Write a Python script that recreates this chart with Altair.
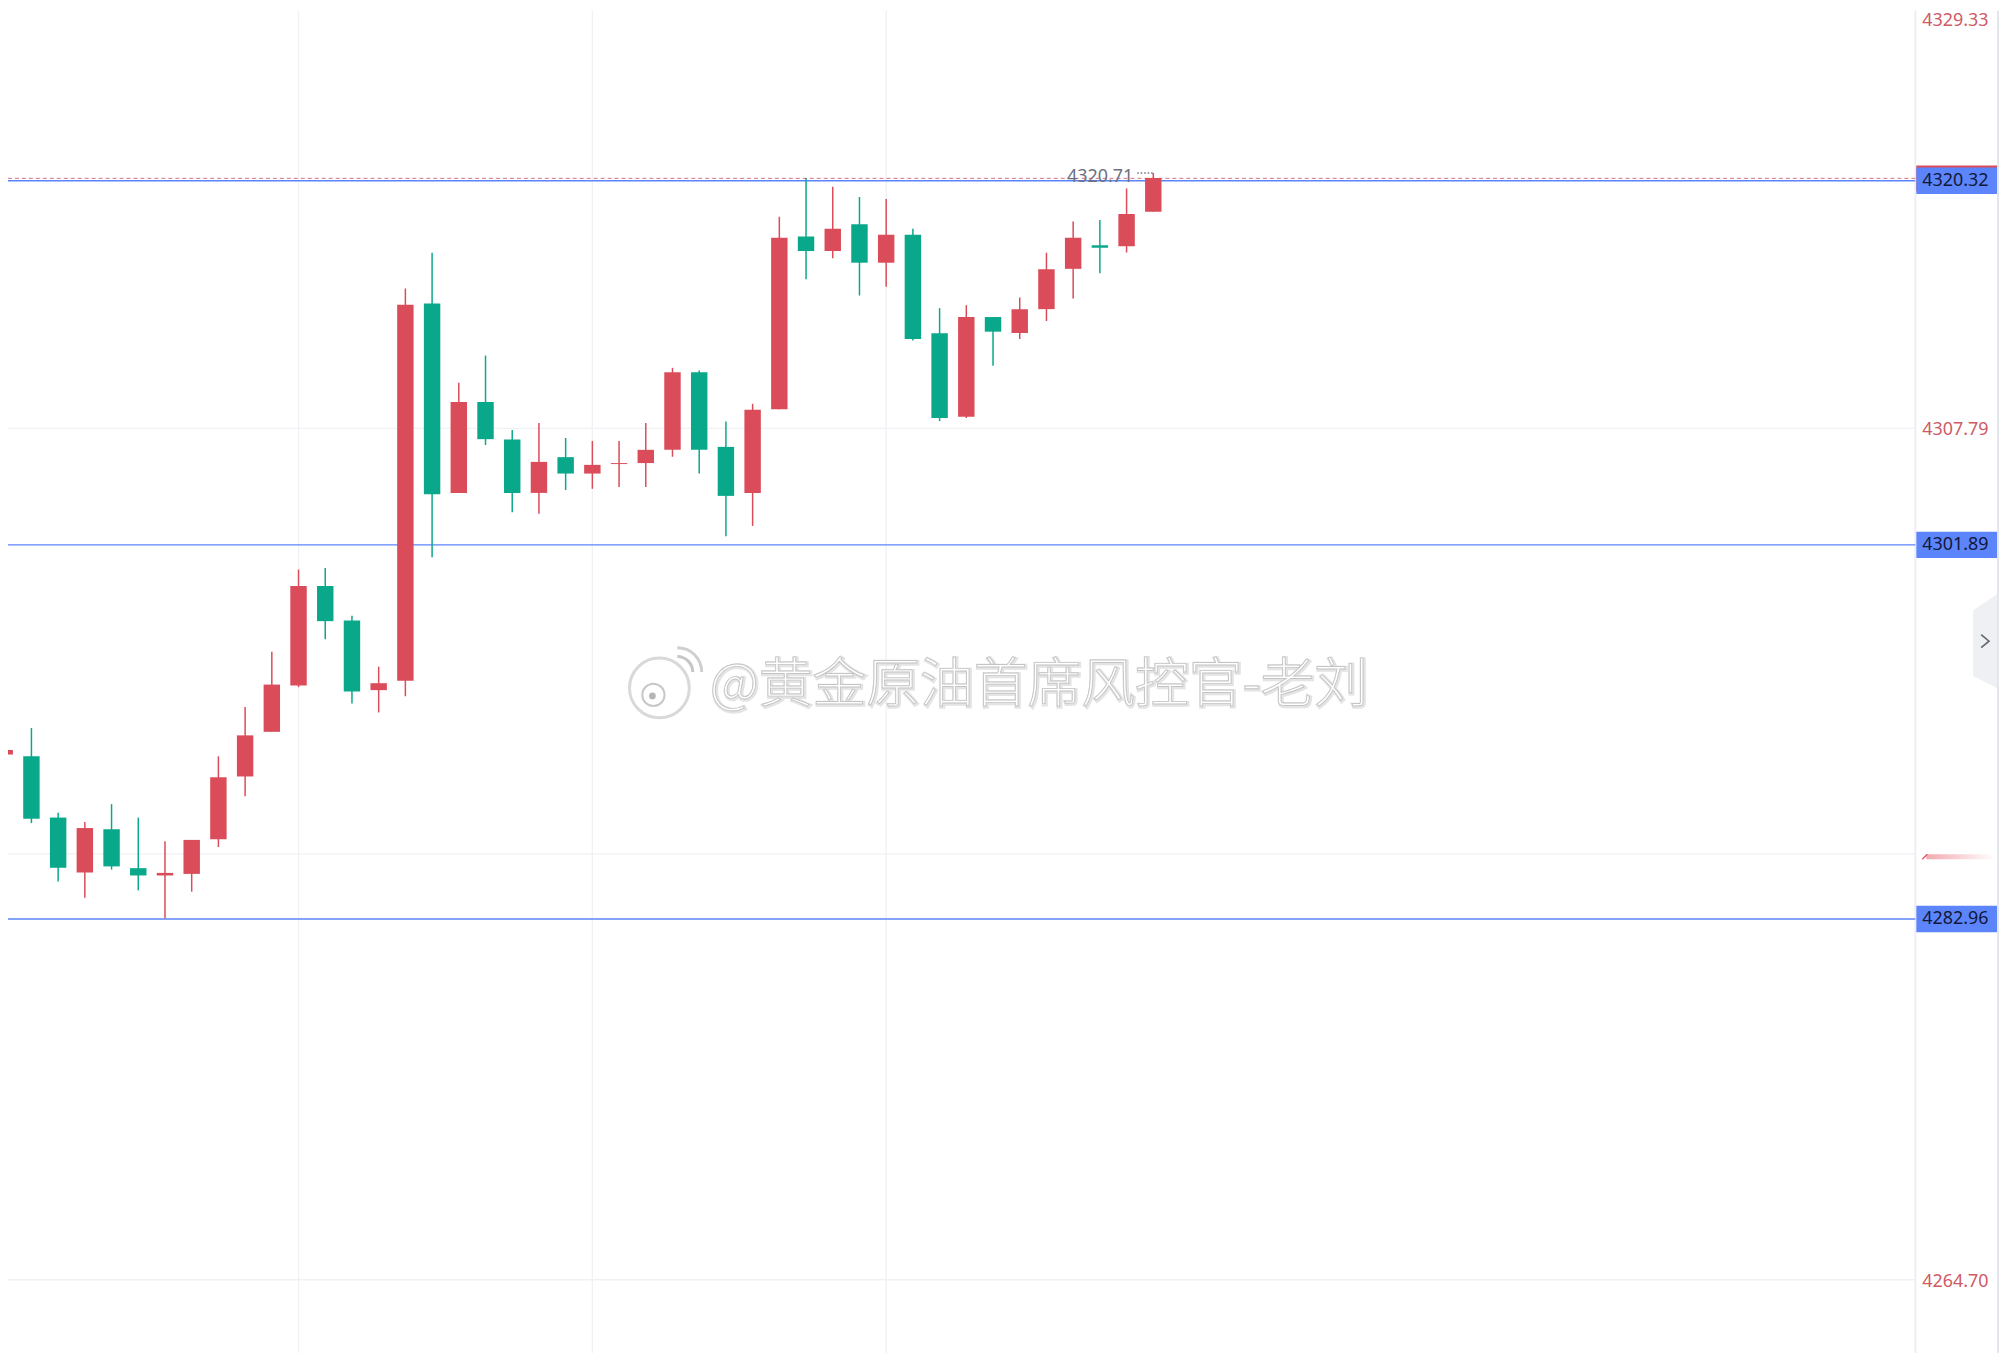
import altair as alt
import pandas as pd

wick_high = [4292.49,4292.62,4288.34,4287.86,4288.77,4288.09,4286.89,4286.96,4291.19,4293.68,4296.48,
             4300.64,4300.72,4298.30,4295.73,4314.86,4316.68,4310.09,4311.47,4307.71,4308.06,4307.30,
             4307.15,4307.15,4308.06,4310.85,4310.72,4308.13,4309.03,4318.49,4320.46,4320.01,4319.49,
             4319.40,4317.89,4313.87,4314.02,4313.42,4314.41,4316.68,4318.26,4318.33,4319.92,4320.71]
body_top = [4291.51,4291.19,4288.09,4287.56,4287.50,4285.53,4285.29,4286.96,4290.13,4292.25,4294.82,
            4299.81,4299.81,4298.06,4294.89,4314.04,4314.11,4309.12,4309.12,4307.22,4306.09,4306.33,
            4305.94,4306.03,4306.70,4310.63,4310.63,4306.85,4308.73,4317.43,4317.50,4317.89,4318.11,
            4317.59,4317.59,4312.60,4313.42,4313.42,4313.81,4315.84,4317.43,4317.05,4318.64,4320.46]
body_bottom = [4291.28,4288.03,4285.55,4285.31,4285.62,4285.16,4285.16,4285.24,4286.99,4290.17,4292.43,
               4294.77,4298.03,4294.47,4294.54,4295.01,4304.45,4304.52,4307.24,4304.52,4304.52,4305.50,
               4305.50,4305.98,4306.03,4306.70,4306.70,4304.37,4304.52,4308.75,4316.76,4316.76,4316.17,
               4316.17,4312.31,4308.31,4308.38,4312.68,4312.61,4313.82,4315.86,4316.93,4317.00,4318.75]
wick_low = [4289.17,4287.81,4284.86,4284.03,4285.46,4284.41,4282.99,4284.34,4286.60,4289.17,4292.43,
            4294.69,4297.11,4293.86,4293.41,4294.23,4301.27,4304.52,4306.94,4303.54,4303.46,4304.67,
            4304.73,4304.82,4304.82,4306.35,4305.50,4302.33,4302.85,4308.75,4315.33,4316.39,4314.51,
            4314.95,4312.23,4308.16,4308.31,4310.95,4312.31,4313.22,4314.36,4315.64,4316.69,4318.75]
direction = ["r","g","g","r","g","g","r","r","r","r","r",
             "r","g","g","r","r","g","r","g","g","r","g",
             "r","r","r","r","g","g","r","r","g","r","g",
             "r","g","g","r","g","r","r","r","g","r","r"]

guide_prices = [4320.32, 4301.89, 4282.96]
current_price = [4320.44]
grid_prices = [4264.70, 4286.25, 4307.79]
labelled_prices = [4264.70, 4307.79]
grid_indices = [11, 22, 33]
top_tick = [4329.33]
high_label = [4320.71]
last_index = [43]
watermark = ["@黄金原油首席风控官-老刘"]

RED, GREEN, BLUE = "#db4c5a", "#0aa88a", "#5c84fb"
LABEL_RED = "#cf5a65"
GRID = "#f0f1f5"
FONT = "Noto Sans"

df = pd.DataFrame({
    "i": list(range(len(wick_high))),
    "wh": wick_high, "bt": body_top, "bb": body_bottom, "wl": wick_low, "d": direction,
})
guides = pd.DataFrame({"v": guide_prices})
cur = pd.DataFrame({"v": current_price})
gridy = pd.DataFrame({"v": grid_prices})
ticks = pd.DataFrame({"v": labelled_prices})
gridx = pd.DataFrame({"i": grid_indices})
top = pd.DataFrame({"v": top_tick})
hi = pd.DataFrame({"v": high_label, "i": last_index})
wm = pd.DataFrame({"t": watermark})
one = pd.DataFrame({"a": [0]})

xs = alt.Scale(domain=[0.123, 71.53], nice=False, zero=False, padding=0)
ys = alt.Scale(domain=[4261.13, 4328.924], nice=False, zero=False, padding=0)
PANEL_L, PANEL_R = 1916, 1997
colors = alt.Scale(domain=["r", "g"], range=[RED, GREEN])

Yv = alt.Y("v:Q", scale=ys, axis=None)
Xi = alt.X("i:Q", scale=xs, axis=None)

grid_h = alt.Chart(gridy).mark_rule(color=GRID, strokeWidth=1.3).encode(y=Yv, x=alt.value(0), x2=alt.value(1915))
grid_v = alt.Chart(gridx).mark_rule(color=GRID, strokeWidth=1.3).encode(x=Xi, y=alt.value(0), y2=alt.value(1350))
panel_line = alt.Chart(one).mark_rule(color="#eceef3", strokeWidth=2).encode(
    x=alt.value(1915), y=alt.value(0), y2=alt.value(1350))
tick_text = alt.Chart(ticks).mark_text(align="left", baseline="middle", dy=2, fontSize=18, font=FONT,
                                       color=LABEL_RED).encode(
    y=Yv, x=alt.value(1922), text=alt.Text("v:Q", format=".2f"))

guide_layer = alt.Chart(guides).mark_rule(color=BLUE, strokeWidth=1.4).encode(
    y=Yv, x=alt.value(0), x2=alt.value(1915))
current_line = alt.Chart(cur).mark_rule(color="#d9737f", strokeWidth=1, strokeDash=[4, 3]).encode(
    y=Yv, x=alt.value(0), x2=alt.value(1915))

wicks = alt.Chart(df).mark_rule(strokeWidth=1.5, clip=True).encode(
    x=Xi, y=alt.Y("wh:Q", scale=ys, axis=None), y2="wl:Q",
    color=alt.Color("d:N", scale=colors, legend=None))
bodies = alt.Chart(df).mark_bar(size=16.5, clip=True).encode(
    x=Xi, y=alt.Y("bt:Q", scale=ys, axis=None), y2="bb:Q",
    color=alt.Color("d:N", scale=colors, legend=None))

high_text = alt.Chart(hi).mark_text(align="right", baseline="middle", dx=-20, dy=4, fontSize=18,
                                    font=FONT, color="#6c7080").encode(
    x=Xi, y=Yv, text=alt.Text("v:Q", format=".2f"))
high_dots = alt.Chart(hi).mark_rule(color="#6c7080", strokeWidth=1.5, strokeDash=[1.5, 2]).encode(
    x=alt.X("x0:Q", scale=xs, axis=None), x2="i:Q", y=Yv
).transform_calculate(x0="datum.i - 0.6")

cur_tag = alt.Chart(cur).mark_rule(color=RED, strokeWidth=26).encode(
    y=Yv, x=alt.value(PANEL_L), x2=alt.value(PANEL_R))
tags = alt.Chart(guides).mark_rule(color=BLUE, strokeWidth=26.5).encode(
    y=Yv, x=alt.value(PANEL_L), x2=alt.value(PANEL_R))
tag_text = alt.Chart(guides).mark_text(align="left", baseline="middle", fontSize=18, font=FONT,
                                       color="#12183a").encode(
    y=Yv, x=alt.value(1922), text=alt.Text("v:Q", format=".2f"))
top_text = alt.Chart(top).mark_text(align="left", baseline="middle", fontSize=18, font=FONT,
                                    color=LABEL_RED).encode(
    x=alt.value(1922), y=alt.value(10), text=alt.Text("v:Q", format=".2f"))

right_edge = alt.Chart(one).mark_rule(color="#e4e6ed", strokeWidth=2).encode(
    x=alt.value(1998), y=alt.value(0), y2=alt.value(1350))
tab = alt.Chart(one).mark_point(shape="M.24,-.94L-.24,-.62L-.24,.7L.24,.94Z", filled=True, size=10000,
                                fill="#eff0f3", opacity=1, strokeWidth=0).encode(
    x=alt.value(1985), y=alt.value(633))
chevron = alt.Chart(one).mark_point(shape="M-.6,-1L.6,0L-.6,1", filled=False, size=169,
                                    stroke="#666a72", strokeWidth=1.7, opacity=1).encode(
    x=alt.value(1985), y=alt.value(633))

smudge = alt.Chart(one).mark_rect(
    fill=alt.Gradient(gradient="linear", x1=0, x2=1, y1=0, y2=0,
                      stops=[alt.GradientStop(offset=0, color="#f2a9b1"),
                             alt.GradientStop(offset=1, color="#ffffff")])
).encode(x=alt.value(1926), x2=alt.value(1995), y=alt.value(847), y2=alt.value(852))
smudge_tip = alt.Chart(one).mark_rule(color="#e05a68", strokeWidth=1.5).encode(
    x=alt.value(1922), x2=alt.value(1927), y=alt.value(852), y2=alt.value(847))

wm_shadow = alt.Chart(wm).mark_text(fontSize=54, font="Noto Sans CJK SC", fontWeight=300, align="center",
                                    baseline="middle", fill="#ffffff", stroke="#e4e4e4", strokeWidth=3.5).encode(
    x=alt.value(1036), y=alt.value(679), text="t:N")
wm_text = alt.Chart(wm).mark_text(fontSize=54, font="Noto Sans CJK SC", fontWeight=300, align="center",
                                  baseline="middle", fill="#ffffff", stroke="#c4c4c4", strokeWidth=0.9).encode(
    x=alt.value(1035), y=alt.value(678), text="t:N")

logo_body = alt.Chart(one).mark_point(shape="circle", filled=True, size=3600, fill="#ffffff",
                                      stroke="#d9d9d9", strokeWidth=3, opacity=1).encode(
    x=alt.value(654), y=alt.value(680))
logo_eye = alt.Chart(one).mark_point(shape="circle", filled=True, size=500, fill="#ffffff",
                                     stroke="#c8c8c8", strokeWidth=2, opacity=1).encode(
    x=alt.value(648), y=alt.value(687))
logo_pupil = alt.Chart(one).mark_point(shape="circle", filled=True, size=45, fill="#b5b5b5",
                                       strokeWidth=0, opacity=1).encode(
    x=alt.value(647), y=alt.value(688))
logo_arc1 = alt.Chart(one).mark_arc(innerRadius=14, outerRadius=17, theta=0, theta2=1.57, fill="#c6c6c6").encode(
    x=alt.value(672), y=alt.value(664))
logo_arc2 = alt.Chart(one).mark_arc(innerRadius=23, outerRadius=26, theta=0, theta2=1.57, fill="#cfcfcf").encode(
    x=alt.value(672), y=alt.value(664))

chart = alt.layer(
    grid_h, grid_v, panel_line, guide_layer, current_line, wicks, bodies, high_dots, high_text,
    wm_shadow, wm_text, logo_body, logo_eye, logo_pupil, logo_arc1, logo_arc2,
    tick_text, cur_tag, tags, tag_text, top_text, right_edge, tab, chevron, smudge, smudge_tip,
).properties(
    width=1915, height=1345,
    autosize=alt.AutoSizeParams(type="none"),
    padding={"left": 0, "top": 0, "right": 88, "bottom": 0},
    background="#ffffff",
).configure_view(stroke=None)

chart.save("out.html", embed_options={"renderer": "svg", "actions": False})
